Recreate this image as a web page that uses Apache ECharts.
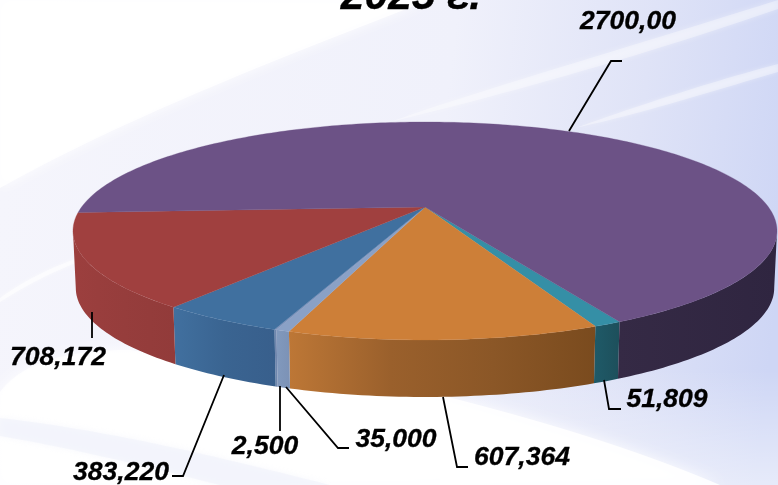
<!DOCTYPE html>
<html>
<head>
<meta charset="utf-8">
<style>html,body{margin:0;padding:0;overflow:hidden}#chart{width:778px;height:485px}</style>
<script src="https://cdn.jsdelivr.net/npm/echarts@6/dist/echarts.min.js"></script>
</head>
<body>
<div id="chart"></div>
<script>
// printed values, clockwise from the teal slice
const labels = ['51,809', '607,364', '35,000', '2,500', '383,220', '708,172', '2700,00'];
const values = [51.809, 607.364, 35, 2.5, 383.22, 708.172, 2700];
// the slices in the picture are not in proportion to the printed numbers,
// so the share of each slice (%) is read from the slice itself
const shares = [1.05, 11.55, 0.5, 0.08, 4.67, 13.83, 68.3];
const topColors = ['#358fa6', '#cd7f38', '#8aa1c6', '#7d93bb', '#40709f', '#a0403f', '#6c5286'];
const wallColors = [
  ['#1f5a68', '#1d4f5b'],
  ['#bd7736', '#9a602c', '#8b5727', '#7a4b1e'],
  ['#8199bd', '#7c92b6'],
  ['#6f86ad', '#6f86ad'],
  ['#41709f', '#3a6491', '#385f8c'],
  ['#9c3f3e', '#963d3c', '#923b3a'],
  ['#352a45', '#2f2540']
];
const startAngle = 62.9;

// perspective view of the disc
const cx = 425, cy = 207, R = 343.4, K = 103.7, P = 0.22, depth = 57;
// angle where the projected rim is widest, the wall stops there
const edge = 12.7;

function project(deg, drop) {
  const a = deg * Math.PI / 180;
  const w = 1 - P * Math.sin(a);
  const s = drop ? 0.992 : 1;
  return [cx + s * R * Math.cos(a) / w, cy + K * Math.sin(a) / w + (drop ? depth : 0)];
}
function arc(from, to, drop) {
  const pts = [];
  const n = Math.max(2, Math.ceil(Math.abs(to - from)));
  for (let i = 0; i <= n; i++) pts.push(project(from + (to - from) * i / n, drop));
  return pts;
}
function wall(from, to, colors) {
  const stops = colors.map((c, i) => ({offset: i / (colors.length - 1), color: c}));
  return {
    type: 'polygon',
    shape: {points: arc(from, to, false).concat(arc(to, from, true))},
    style: {fill: new echarts.graphic.LinearGradient(0, 0, 1, 0, stops), stroke: null}
  };
}

const total = shares.reduce((a, b) => a + b, 0);
let acc = startAngle;
const sliceData = shares.map((s, i) => {
  const from = acc;
  acc += s / total * 360;
  return [from, acc, i, values[i]];
});

function renderSlice(params, api) {
  const from = api.value(0), to = api.value(1), idx = api.value(2);
  const children = [];
  // only the part facing the viewer has a wall
  [[edge, 180 - edge], [360 + edge, 540 - edge]].forEach(r => {
    const a = Math.max(from, r[0]), b = Math.min(to, r[1]);
    if (b > a) children.push(wall(b, a, wallColors[idx]));
  });
  children.push({
    type: 'polygon',
    z2: 5,
    shape: {points: [[cx, cy]].concat(arc(from, to, false))},
    style: {fill: topColors[idx], stroke: topColors[idx], lineWidth: 0.3}
  });
  return {type: 'group', children: children};
}

// sampled cubic, for the background sheets
function curve(p0, c1, c2, p1) {
  const pts = [];
  for (let i = 0; i <= 24; i++) {
    const t = i / 24, u = 1 - t;
    pts.push([
      u * u * u * p0[0] + 3 * u * u * t * c1[0] + 3 * u * t * t * c2[0] + t * t * t * p1[0],
      u * u * u * p0[1] + 3 * u * u * t * c1[1] + 3 * u * t * t * c2[1] + t * t * t * p1[1]
    ]);
  }
  return pts;
}
function sheet(points, fill, op, blur) {
  return {type: 'polygon', z: -5, silent: true, shape: {points: points}, style: {fill: fill, opacity: op, shadowBlur: blur, shadowColor: fill}};
}
function leader(points) {
  return {type: 'polyline', z: 20, silent: true, shape: {points: points}, style: {stroke: '#000', lineWidth: 1.8, fill: null}};
}
function tag(text, x, y) {
  return {type: 'text', z: 20, silent: true, x: x, y: y, style: {text: text, fill: '#000', stroke: '#000', lineWidth: 0.3, font: 'italic bold 26.5px "Liberation Sans", Arial', align: 'center', verticalAlign: 'middle'}};
}

const chart = echarts.init(document.getElementById('chart'));
chart.setOption({
  animation: false,
  backgroundColor: new echarts.graphic.LinearGradient(0, 0.4, 1, 0.6, [
    {offset: 0, color: '#f5f5fc'},
    {offset: 0.55, color: '#f0f1fb'},
    {offset: 0.8, color: '#dfe3f7'},
    {offset: 1, color: '#ced6f5'}
  ]),
  graphic: [
    // white sheet top left, thin streaks, and the pale wedge along the bottom
    sheet([[0, 0], [430, 0]].concat(curve([430, 0], [300, 50], [130, 115], [0, 188])), '#ffffff', 0.85, 14),
    sheet(curve([390, 122], [480, 90], [620, 50], [778, 0]).concat(curve([778, 9], [630, 60], [490, 98], [390, 122])), '#ffffff', 0.35, 6),
    sheet(curve([575, 128], [640, 105], [710, 82], [778, 64]).concat(curve([778, 72], [710, 92], [640, 114], [575, 128])), '#ffffff', 0.35, 5),
    sheet(curve([0, 298], [25, 280], [50, 268], [78, 258]).concat(curve([78, 262], [50, 273], [25, 286], [0, 302])), '#ffffff', 0.55, 4),
    {type: 'rect', z: -5, silent: true, shape: {x: 440, y: 370, width: 338, height: 115}, style: {fill: new echarts.graphic.LinearGradient(0, 0, 0, 1, [{offset: 0, color: 'rgba(255,255,255,0)'}, {offset: 1, color: 'rgba(255,255,255,0.5)'}])}},
    sheet(curve([0, 392], [20, 365], [60, 350], [130, 350]).concat(curve([440, 395], [560, 425], [650, 455], [720, 485]), [[0, 485]]), '#ffffff', 0.85, 14),
    sheet(curve([0, 418], [120, 432], [230, 460], [330, 485]).concat(curve([220, 485], [130, 462], [60, 446], [0, 436])), '#eef0fa', 0.45, 6),
    {type: 'text', z: 20, silent: true, x: 411, y: -3, style: {text: '2025 г.', fill: '#000', stroke: '#000', lineWidth: 0.3, font: 'italic bold 42.5px "Liberation Sans", Arial', align: 'center', verticalAlign: 'middle'}},
    leader([[569, 131], [611, 61], [622, 61]]),
    leader([[92, 312], [92, 338]]),
    leader([[224, 375], [183, 476], [172, 476]]),
    leader([[280, 386], [280, 431]]),
    leader([[286, 387], [338, 448], [349, 448]]),
    leader([[443, 397], [457, 467], [468, 467]]),
    leader([[604, 380], [609, 409], [621, 409]]),
    tag(labels[6], 628, 22),
    tag(labels[5], 58, 358),
    tag(labels[4], 121, 473),
    tag(labels[3], 265, 447),
    tag(labels[2], 396, 440),
    tag(labels[1], 522, 458),
    tag(labels[0], 667, 400)
  ],
  series: [{
    type: 'custom',
    coordinateSystem: 'none',
    silent: true,
    z: 5,
    data: sliceData,
    renderItem: renderSlice
  }]
});
</script>
</body>
</html>
